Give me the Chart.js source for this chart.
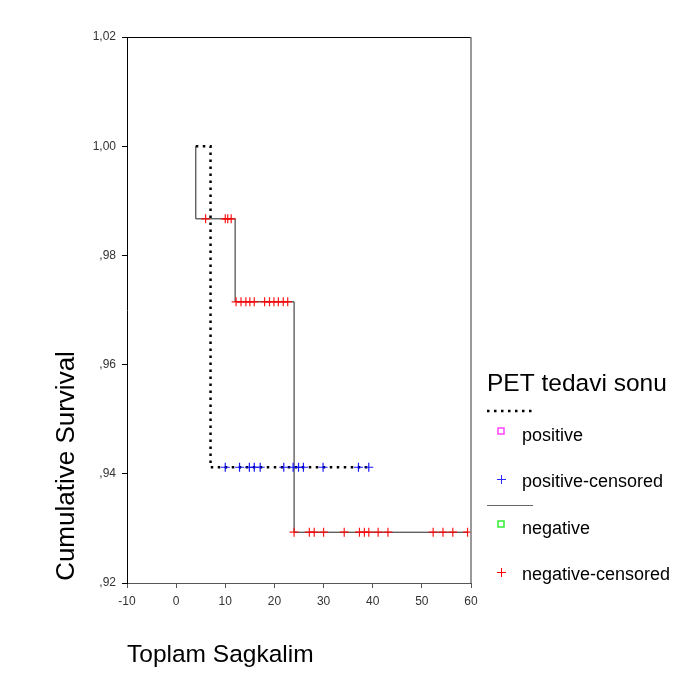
<!DOCTYPE html>
<html>
<head>
<meta charset="utf-8">
<script src="https://cdn.jsdelivr.net/npm/chart.js@4"></script>
<style>
  html, body { margin: 0; padding: 0; background: #fff; }
  #wrap { width: 685px; height: 682px; position: relative; }
</style>
</head>
<body>
<div id="wrap"><canvas id="kmChart" width="685" height="682"></canvas></div>
<script>
// Kaplan-Meier: PET tedavi sonu (positive / negative)

const startTime = 4;

// negative group: event times and survival after each event
const negEventTimes = [4, 12, 24];
const negSurvival = [0.9867, 0.9715, 0.9293];
const negEndTime = 59.3;
const negCensored = [6, 10, 10.5, 11.2,
    12.2, 13.2, 14.2, 15, 15.9, 18, 19, 19.9, 20.8, 21.8, 22.7,
    24, 27.1, 28.1, 30, 34.2, 37.3, 38.3, 39.2, 41.1, 43.1, 52.3, 54.3, 56.3, 59.3];

// positive group
const posEventTimes = [7];
const posSurvival = [0.9412];
const posEndTime = 39.2;
const posCensored = [10, 12.9, 14.9, 15.9, 17.1, 21.9, 23.8, 24.9, 25.9, 29.9, 37.1, 39.2];

// axes
const xMin = -10, xMax = 60, xStep = 10;
const yMin = 0.92, yMax = 1.02, yStep = 0.02;

const fontFamily = '"Liberation Sans", Arial, sans-serif';

function curvePoints(times, surv, endTime) {
    const pts = [{ x: startTime, y: 1 }];
    times.forEach((t, i) => pts.push({ x: t, y: surv[i] }));
    pts.push({ x: endTime, y: surv[surv.length - 1] });
    return pts;
}

function survivalAt(times, surv, t) {
    let s = 1;
    times.forEach((e, i) => { if (e <= t) s = surv[i]; });
    return s;
}

function censorPoints(cens, times, surv) {
    return cens.map(t => ({ x: t, y: survivalAt(times, surv, t) }));
}

function formatTick(v) {
    let s = Number(v).toFixed(2).replace('.', ',');
    if (s.startsWith('0')) s = s.substring(1);
    return s;
}

// frame, titles and legend (SPSS style)
const decorPlugin = {
    id: 'decor',
    afterDraw(chart) {
        const ctx = chart.ctx;
        const a = chart.chartArea;
        ctx.save();

        // top and right edges of the box
        ctx.lineWidth = 1;
        ctx.strokeStyle = '#000';
        ctx.beginPath();
        ctx.moveTo(a.left - 5, a.top + 0.5);
        ctx.lineTo(a.right, a.top + 0.5);
        ctx.stroke();
        ctx.strokeStyle = '#777';
        ctx.lineWidth = 1.5;
        ctx.beginPath();
        ctx.moveTo(a.right, a.top);
        ctx.lineTo(a.right, a.bottom);
        ctx.stroke();

        // axis titles
        ctx.fillStyle = '#000';
        ctx.font = '24.5px ' + fontFamily;
        ctx.textAlign = 'left';
        ctx.textBaseline = 'alphabetic';
        ctx.fillText('Toplam Sagkalim', 127, 662);

        ctx.save();
        ctx.translate(74, 466);
        ctx.rotate(-Math.PI / 2);
        ctx.textAlign = 'center';
        ctx.font = '26px ' + fontFamily;
        ctx.fillText('Cumulative Survival', 0, 0);
        ctx.restore();

        // legend
        const lx = 487;
        ctx.font = '24.5px ' + fontFamily;
        ctx.fillText('PET tedavi sonu', lx, 391);

        ctx.strokeStyle = '#000';
        ctx.lineWidth = 2.5;
        ctx.setLineDash([2.5, 4.5]);
        ctx.beginPath();
        ctx.moveTo(lx, 411);
        ctx.lineTo(lx + 47, 411);
        ctx.stroke();
        ctx.setLineDash([]);

        ctx.strokeStyle = '#666';
        ctx.lineWidth = 1;
        ctx.beginPath();
        ctx.moveTo(lx, 505.5);
        ctx.lineTo(lx + 46, 505.5);
        ctx.stroke();

        ctx.font = '18px ' + fontFamily;
        const tx = 522;
        const mx = 501;
        ctx.fillText('positive', tx, 441);
        ctx.fillText('positive-censored', tx, 487);
        ctx.fillText('negative', tx, 534);
        ctx.fillText('negative-censored', tx, 580);

        ctx.lineWidth = 1.5;
        ctx.strokeStyle = '#ff44ff';
        ctx.strokeRect(mx - 3, 428, 6, 6);
        ctx.strokeStyle = '#33ee33';
        ctx.strokeRect(mx - 3, 521, 6, 6);

        // censor marks in the legend
        ctx.lineWidth = 1;
        ctx.strokeStyle = 'rgb(40, 40, 255)';
        ctx.beginPath();
        ctx.moveTo(mx - 4, 479.5); ctx.lineTo(mx + 5, 479.5);
        ctx.moveTo(mx + 0.5, 475); ctx.lineTo(mx + 0.5, 484);
        ctx.stroke();
        ctx.strokeStyle = '#ff0000';
        ctx.beginPath();
        ctx.moveTo(mx - 4, 572.5); ctx.lineTo(mx + 5, 572.5);
        ctx.moveTo(mx + 0.5, 568); ctx.lineTo(mx + 0.5, 577);
        ctx.stroke();

        ctx.restore();
    }
};

const ctx = document.getElementById('kmChart').getContext('2d');
const kmChart = new Chart(ctx, {
    type: 'scatter',
    data: {
        datasets: [
            {
                label: 'negative-censored',
                data: censorPoints(negCensored, negEventTimes, negSurvival),
                pointStyle: 'cross',
                pointRadius: 4.5,
                pointBorderColor: 'rgba(255, 0, 0, 0.9)',
                pointBorderWidth: 1.2,
                showLine: false,
                order: 1
            },
            {
                label: 'positive-censored',
                data: censorPoints(posCensored, posEventTimes, posSurvival),
                pointStyle: 'cross',
                pointRadius: 4.5,
                pointBorderColor: 'rgba(0, 0, 255, 0.9)',
                pointBorderWidth: 1.2,
                showLine: false,
                order: 1
            },
            {
                label: 'positive',
                data: curvePoints(posEventTimes, posSurvival, posEndTime),
                showLine: true,
                stepped: true,
                borderColor: '#000',
                borderWidth: 2.5,
                borderDash: [2.5, 4.5],
                pointRadius: 0,
                order: 2
            },
            {
                label: 'negative',
                data: curvePoints(negEventTimes, negSurvival, negEndTime),
                showLine: true,
                stepped: true,
                borderColor: '#222',
                borderWidth: 1,
                pointRadius: 0,
                order: 3
            }
        ]
    },
    options: {
        responsive: false,
        animation: false,
        layout: { padding: { left: 0, top: 37, right: 214, bottom: 0 } },
        plugins: {
            legend: { display: false },
            tooltip: { enabled: false }
        },
        scales: {
            x: {
                type: 'linear',
                min: xMin,
                max: xMax,
                afterFit: function(scale) { scale.height = 99; },
                ticks: {
                    stepSize: xStep,
                    color: '#333',
                    padding: 6,
                    font: { family: fontFamily, size: 12 }
                },
                grid: { drawOnChartArea: false, drawTicks: true, tickLength: 5, color: '#555' },
                border: { display: true, color: '#555', width: 1 }
            },
            y: {
                type: 'linear',
                min: yMin,
                max: yMax,
                afterFit: function(scale) { scale.width = 127; },
                ticks: {
                    stepSize: yStep,
                    color: '#333',
                    padding: 6,
                    font: { family: fontFamily, size: 12 },
                    callback: function(value) { return formatTick(value); }
                },
                grid: { drawOnChartArea: false, drawTicks: true, tickLength: 5, color: '#000' },
                border: { display: true, color: '#000', width: 1 }
            }
        }
    },
    plugins: [decorPlugin]
});
</script>
</body>
</html>
